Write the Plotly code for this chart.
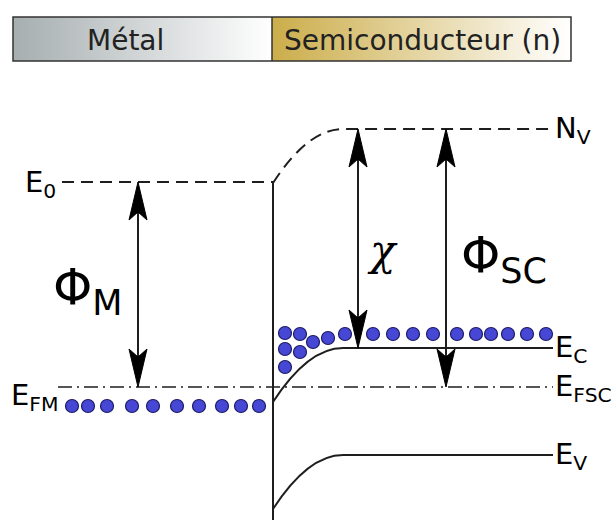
import plotly.graph_objects as go

# ---------------- data ----------------
header_labels = ["Métal", "Semiconducteur (n)"]
header_edges_x = [13, 272, 571]
header_edges_y = [17, 61]
header_label_x = [125, 422]
header_gradients = [["#a6aeb0", "#ffffff"], ["#cbad4a", "#ffffff"]]

x_metal_start = 58
x_interface = 273
x_bend_end = 343
x_right_end = 553
interface_bottom = 520

E0 = 182
NV = 129
EC = 348
EF = 387
EV = 455
band_bend = 54

metal_dots_x = [72, 88, 107, 132, 153, 177, 199, 222, 241, 259]
metal_dots_y = [406] * 10
sc_dots_x = [285, 300, 313, 328, 345, 373, 393, 413, 433, 457, 476, 491, 508, 527, 546, 285, 300, 285]
sc_dots_y = [333, 334, 342, 338, 334, 334, 334, 334, 334, 334, 334, 334, 334, 334, 334, 349, 352, 367]

arrow_x = [138, 358, 446]
arrow_top = [E0, NV, NV]
arrow_bottom = [EF, EC, EF]

level_labels = ["N<sub>V</sub>", "E<sub>C</sub>", "E<sub>FSC</sub>", "E<sub>V</sub>"]
level_label_y = [NV, EC, EF, EV]

FONT = "DejaVu Sans"
INK = "#1e1e1e"

fig = go.Figure()

# ---------------- header ----------------
for i, lab in enumerate(header_labels):
    x0, x1 = header_edges_x[i], header_edges_x[i + 1]
    y0, y1 = header_edges_y
    fig.add_trace(go.Scatter(
        x=[x0, x1, x1, x0, x0], y=[y0, y0, y1, y1, y0],
        mode="lines", fill="toself", line=dict(width=0),
        fillgradient=dict(type="horizontal",
                          colorscale=[[0, header_gradients[i][0]], [1, header_gradients[i][1]]]),
        hoverinfo="skip", showlegend=False))
    fig.add_annotation(x=header_label_x[i], y=(y0 + y1) / 2 + 1, text=lab, showarrow=False,
                       font=dict(family=FONT, size=28, color="#222222"), xanchor="center", yanchor="middle")

fig.add_shape(type="rect", x0=header_edges_x[0], x1=header_edges_x[-1],
              y0=header_edges_y[0], y1=header_edges_y[1],
              line=dict(color="#333333", width=1.5))
fig.add_shape(type="line", x0=header_edges_x[1], x1=header_edges_x[1],
              y0=header_edges_y[0], y1=header_edges_y[1],
              line=dict(color="#333333", width=1.5))

# ---------------- band diagram ----------------
line_style = dict(color=INK, width=2)

# interface
fig.add_shape(type="line", x0=x_interface, x1=x_interface, y0=E0, y1=interface_bottom, line=line_style)

# vacuum level metal E0
fig.add_shape(type="line", x0=x_metal_start + 4, x1=x_interface, y0=E0, y1=E0,
              line=dict(color=INK, width=2, dash="12px,7px"))

# Fermi level (dash-dot)
fig.add_shape(type="line", x0=x_metal_start, x1=x_right_end, y0=EF, y1=EF,
              line=dict(color=INK, width=1.6, dash="14px,5px,2px,5px"))

def bent(level, dash=None, width=2):
    mid = (x_interface + x_bend_end) / 2
    path = (f"M {x_interface},{level + band_bend} Q {mid},{level} {x_bend_end},{level} "
            f"L {x_right_end},{level}")
    fig.add_shape(type="path", path=path, line=dict(color=INK, width=width, dash=dash))

bent(NV, dash="12px,7px")
bent(EC)
bent(EV)

# arrows
def head(x, y_tip, direction):
    L, w, notch = 38, 9, 30
    yb = y_tip + direction * L
    yn = y_tip + direction * notch
    path = f"M {x},{y_tip} L {x - w},{yb} L {x},{yn} L {x + w},{yb} Z"
    fig.add_shape(type="path", path=path, fillcolor="#000000", line=dict(color="#000000", width=1))

for ax, at, ab in zip(arrow_x, arrow_top, arrow_bottom):
    fig.add_shape(type="line", x0=ax, x1=ax, y0=at + 10, y1=ab - 10, line=dict(color=INK, width=2))
    head(ax, at, 1)
    head(ax, ab, -1)

# electrons
dot = dict(size=13, color="#4747d6", line=dict(color="#1b1b66", width=1.2))
fig.add_trace(go.Scatter(x=metal_dots_x, y=metal_dots_y, mode="markers", marker=dot,
                         hoverinfo="skip", showlegend=False))
fig.add_trace(go.Scatter(x=sc_dots_x, y=sc_dots_y, mode="markers", marker=dot,
                         hoverinfo="skip", showlegend=False))

# labels
lab_font = dict(family=FONT, size=29, color="#000000")
fig.add_annotation(x=58, y=E0 + 2, text="E<sub>0</sub>", showarrow=False, font=lab_font,
                   xanchor="right", yanchor="middle")
fig.add_annotation(x=9, y=EF + 10, text="E<sub>FM</sub>", showarrow=False, font=lab_font,
                   xanchor="left", yanchor="middle")
for t, y in zip(level_labels, level_label_y):
    fig.add_annotation(x=553, y=y + 1, text=t, showarrow=False, font=lab_font,
                       xanchor="left", yanchor="middle")

fig.add_annotation(x=88, y=290, text="Φ<sub>M</sub>", showarrow=False,
                   font=dict(family=FONT, size=50, color="#000000"), xanchor="center", yanchor="middle")
fig.add_annotation(x=504, y=258, text="Φ<sub>SC</sub>", showarrow=False,
                   font=dict(family=FONT, size=50, color="#000000"), xanchor="center", yanchor="middle")
fig.add_annotation(x=382, y=250, text="<i>χ</i>", showarrow=False,
                   font=dict(family="DejaVu Serif", size=42, color="#000000"), xanchor="center", yanchor="middle")

fig.update_layout(
    width=615, height=522, margin=dict(l=0, r=0, t=0, b=0),
    paper_bgcolor="white", plot_bgcolor="white",
    xaxis=dict(range=[0, 615], visible=False, fixedrange=True),
    yaxis=dict(range=[522, 0], visible=False, fixedrange=True),
    showlegend=False,
)

fig.write_html("out.html", config={"displayModeBar": False},
               post_script="document.body.style.margin='0';document.body.style.overflow='hidden';")
